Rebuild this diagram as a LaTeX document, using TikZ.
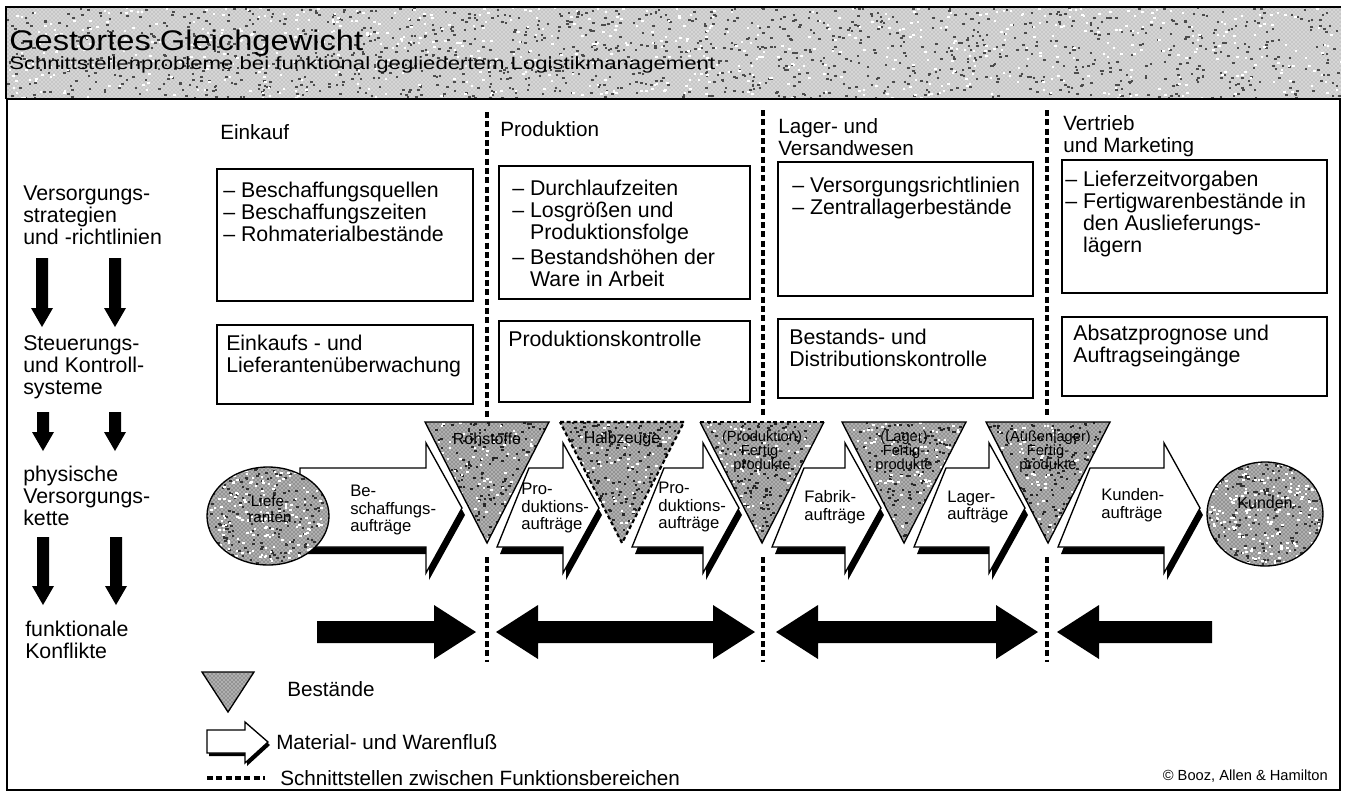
\documentclass[tikz,border=0pt]{standalone}
\usepackage{fontspec}
\setmainfont{Liberation Sans}
\newfontfamily\titlefont[FakeStretch=1.15]{Liberation Sans}
\newfontfamily\subfont[FakeStretch=1.25]{Liberation Sans}
\usetikzlibrary{patterns}
\newcommand{\flowarr}[3]{%
  \fill[black,shift={(3,7)}] (#1,468) -- ({#3-36},468) -- ({#3-36},443) -- (#3,508) -- ({#3-36},573) -- ({#3-36},547) -- (#2,547) -- cycle;
  \filldraw[fill=white,draw=black,line width=1pt,line join=miter] (#1,468) -- ({#3-36},468) -- ({#3-36},443) -- (#3,508) -- ({#3-36},573) -- ({#3-36},547) -- (#2,547) -- cycle;}
\newcommand{\downarr}[3]{%
  \fill[black] ({#1-6},#2) -- ({#1+6},#2) -- ({#1+6},{#3-19}) -- ({#1+11},{#3-19}) -- (#1,#3) -- ({#1-11},{#3-19}) -- ({#1-6},{#3-19}) -- cycle;}
\newcommand{\speckle}[6]{%
  \foreach \i in {1,...,#5}{\pgfmathsetmacro\sx{#1+rnd*#3}\pgfmathsetmacro\sy{#2+rnd*#4}\fill[#6] (\sx,\sy) rectangle ++(2.5,2);}}
\begin{document}
\begin{tikzpicture}[x=0.75pt,y=-0.75pt,
  big/.style={font=\fontsize{16}{16.5}\selectfont, inner sep=0pt, align=left},
  head/.style={font=\fontsize{15.5}{16.5}\selectfont, inner sep=0pt, align=left, anchor=west},
  lab/.style={font=\fontsize{12.5}{13.2}\selectfont, inner sep=0pt, align=left, anchor=west},
  tri/.style={font=\fontsize{11}{10.5}\selectfont, inner sep=0pt, align=center},
  leg/.style={font=\fontsize{15.5}{16}\selectfont, inner sep=0pt, anchor=west},
  boxline/.style={draw=black, line width=1pt},
  sep/.style={draw=black, line width=3pt, dash pattern=on 4.5pt off 2.5pt},
  stip/.style={fill=gray!62, postaction={pattern=crosshatch dots, pattern color=black!80}},
  lightstip/.style={fill=gray!32, postaction={pattern=crosshatch dots, pattern color=gray!80}}]
\pgfmathsetseed{7}
\useasboundingbox (0,0) rectangle (1345,794);
\fill[white] (0,0) rectangle (1345,794);
% title band
\path[lightstip] (6,7) rectangle (1341,99);
\begin{scope}
  \clip (6,7) rectangle (1341,99);
  \speckle{6}{7}{1335}{92}{1300}{black!70}
  \speckle{6}{7}{1335}{92}{700}{white}
\end{scope}
\draw[line width=1.2pt] (6,99) -- (6,7) -- (1341,7);
\node (title) [anchor=west, inner sep=0pt, font=\titlefont\fontsize{21.3}{23}\selectfont] at (9,43) {Gestortes Gleichgewicht};
\node (subtitle) [anchor=west, inner sep=0pt, font=\subfont\fontsize{13.3}{15}\selectfont] at (9,65) {Schnittstellenprobleme bei funktional gegliedertem Logistikmanagement};
% frame
\draw[line width=1.2pt] (7,99) rectangle (1340,790);
% separators
\draw[sep] (487,112) -- (487,417);
\draw[sep] (487,557) -- (487,662);
\draw[sep] (763,110) -- (763,417);
\draw[sep] (763,557) -- (763,662);
\draw[sep] (1047,110) -- (1047,417);
\draw[sep] (1047,557) -- (1047,662);
% headers
\node (h1) [head] at (220,132) {Einkauf};
\node (h2) [head] at (500,129) {Produktion};
\node (h3) [head] at (778,137) {Lager- und\\Versandwesen};
\node (h4) [head] at (1063,136) {Vertrieb\\und Marketing};
% left labels
\node (l1) [big, anchor=west] at (23,215) {Versorgungs-\\strategien\\und -richtlinien};
\node (l2) [big, anchor=west] at (23,367) {Steuerungs-\\und Kontroll-\\systeme};
\node (l3) [big, anchor=west] at (23,496) {physische\\Versorgungs-\\kette};
\node (l4) [big, anchor=west] at (25,640) {funktionale\\Konflikte};
\downarr{42}{258}{327}
\downarr{115}{258}{327}
\downarr{43}{412}{451}
\downarr{115}{412}{451}
\downarr{43}{537}{605}
\downarr{116}{537}{605}
% top boxes
\draw[boxline] (217,169) rectangle (473,301);
\draw[boxline] (499,166) rectangle (750,299);
\draw[boxline] (778,162) rectangle (1033,296);
\draw[boxline] (1062,160) rectangle (1327,293);
\node (t1) [big, anchor=north west] at (223,182) {– Beschaffungsquellen\\– Beschaffungszeiten\\– Rohmaterialbestände};
\node (t2) [big, anchor=north west] at (512,180) {– Durchlaufzeiten\\– Losgrößen und\\\phantom{– }Produktionsfolge\\[2pt]– Bestandshöhen der\\\phantom{– }Ware in Arbeit};
\node (t3) [big, anchor=north west] at (792,177) {– Versorgungsrichtlinien\\– Zentrallagerbestände};
\node (t4) [big, anchor=north west] at (1065,171) {– Lieferzeitvorgaben\\– Fertigwarenbestände in\\\phantom{– }den Auslieferungs-\\\phantom{– }lägern};
% bottom boxes
\draw[boxline] (217,325) rectangle (473,404);
\draw[boxline] (499,321) rectangle (750,402);
\draw[boxline] (778,319) rectangle (1033,398);
\draw[boxline] (1062,317) rectangle (1327,396);
\node (k1) [big, anchor=north west] at (226,335) {Einkaufs - und\\Lieferantenüberwachung};
\node (k2) [big, anchor=north west] at (508,331) {Produktionskontrolle};
\node (k3) [big, anchor=north west] at (789,329) {Bestands- und\\Distributionskontrolle};
\node (k4) [big, anchor=north west] at (1073,325) {Absatzprognose und\\Auftragseingänge};
% flow arrows
\flowarr{300}{300}{462}
\flowarr{529}{497}{599}
\flowarr{664}{632}{739}
\flowarr{804}{772}{881}
\flowarr{946}{914}{1025}
\flowarr{1090}{1058}{1200}
\node (a1) [lab] at (350,510) {Be-\\schaffungs-\\aufträge};
\node (a2) [lab] at (521,508) {Pro-\\duktions-\\aufträge};
\node (a3) [lab] at (658,507) {Pro-\\duktions-\\aufträge};
\node (a4) [lab] at (804,507) {Fabrik-\\aufträge};
\node (a5) [lab] at (947,507) {Lager-\\aufträge};
\node (a6) [lab] at (1101,505) {Kunden-\\aufträge};
% stock triangles
\foreach \c in {487,622,762,904,1048}{
  \path[stip] ({\c-62},422) -- ({\c+62},422) -- (\c,543) -- cycle;
  \begin{scope}
    \clip ({\c-62},422) -- ({\c+62},422) -- (\c,543) -- cycle;
    \speckle{\c-62}{422}{124}{121}{260}{black!85}
    \speckle{\c-62}{422}{124}{121}{120}{white}
  \end{scope}
}
\draw[line width=1pt] (425,422) -- (549,422) -- (487,543) -- cycle;
\draw[line width=1.6pt, dash pattern=on 3pt off 2pt] (560,422) -- (684,422) -- (622,543) -- cycle;
\draw[line width=1pt] (824,422) -- (762,543) -- (700,422);
\draw[line width=1.6pt, dash pattern=on 3pt off 2pt] (700,422) -- (824,422);
\draw[line width=1pt] (842,422) -- (966,422) -- (904,543) -- cycle;
\draw[line width=1pt] (986,422) -- (1110,422) -- (1048,543) -- cycle;
\node (s1) [tri, font=\fontsize{12}{12}\selectfont] at (487,439) {Rohstoffe};
\node (s2) [tri, font=\fontsize{12}{12}\selectfont] at (622,439) {Halbzeuge};
\node (s3) [tri] at (762,452) {(Produktion)\\Fertig-\\produkte};
\node (s4) [tri] at (904,452) {(Lager)\\Fertig-\\produkte};
\node (s5) [tri] at (1048,452) {(Außenlager)\\Fertig-\\produkte};
% circles
\path[stip] (268,516) ellipse[x radius=61, y radius=49];
\begin{scope}
  \clip (268,516) ellipse[x radius=61, y radius=49];
  \speckle{207}{467}{122}{98}{200}{black!80}
  \speckle{207}{467}{122}{98}{200}{white}
\end{scope}
\draw[line width=1pt] (268,516) ellipse[x radius=61, y radius=49];
\node (lief) [tri, font=\fontsize{11.5}{12}\selectfont] at (270,509) {Liefe-\\ranten};
\path[stip] (1265,514) ellipse[x radius=58, y radius=52];
\begin{scope}
  \clip (1265,514) ellipse[x radius=58, y radius=52];
  \speckle{1207}{462}{116}{104}{200}{black!80}
  \speckle{1207}{462}{116}{104}{200}{white}
\end{scope}
\draw[line width=1pt] (1265,514) ellipse[x radius=58, y radius=52];
\node (kund) [tri, font=\fontsize{12}{12}\selectfont] at (1265,503) {Kunden};
% conflict arrows
\fill[black] (317,621) -- (434,621) -- (434,605) -- (476,632) -- (434,659) -- (434,643) -- (317,643) -- cycle;
\fill[black] (496,632) -- (538,605) -- (538,621) -- (713,621) -- (713,605) -- (755,632) -- (713,659) -- (713,643) -- (538,643) -- (538,659) -- cycle;
\fill[black] (776,632) -- (818,605) -- (818,621) -- (996,621) -- (996,605) -- (1038,632) -- (996,659) -- (996,643) -- (818,643) -- (818,659) -- cycle;
\fill[black] (1057,632) -- (1099,605) -- (1099,621) -- (1212,621) -- (1212,643) -- (1099,643) -- (1099,659) -- cycle;
% legend
\path[stip] (202,672) -- (254,672) -- (228,712) -- cycle;
\draw[line width=1pt] (202,672) -- (254,672) -- (228,712) -- cycle;
\node (lg1) [leg] at (287,689) {Bestände};
\fill[black,shift={(2,3)}] (207,730) -- (245,730) -- (245,722) -- (268,742) -- (245,763) -- (245,753) -- (207,753) -- cycle;
\filldraw[fill=white, draw=black, line width=1pt] (207,730) -- (245,730) -- (245,722) -- (268,742) -- (245,763) -- (245,753) -- (207,753) -- cycle;
\node (lg2) [leg] at (276,742) {Material- und Warenfluß};
\coordinate (d1) at (207,778);
\coordinate (d2) at (265,778);
\draw[line width=3pt, dash pattern=on 4.5pt off 2.5pt] (d1) -- (d2);
\node (lg3) [leg] at (280,778) {Schnittstellen zwischen Funktionsbereichen};
\node (copy) [anchor=east, inner sep=0pt, font=\fontsize{11}{12}\selectfont] at (1328,776) {© Booz, Allen \& Hamilton};
\end{tikzpicture}
\end{document}
